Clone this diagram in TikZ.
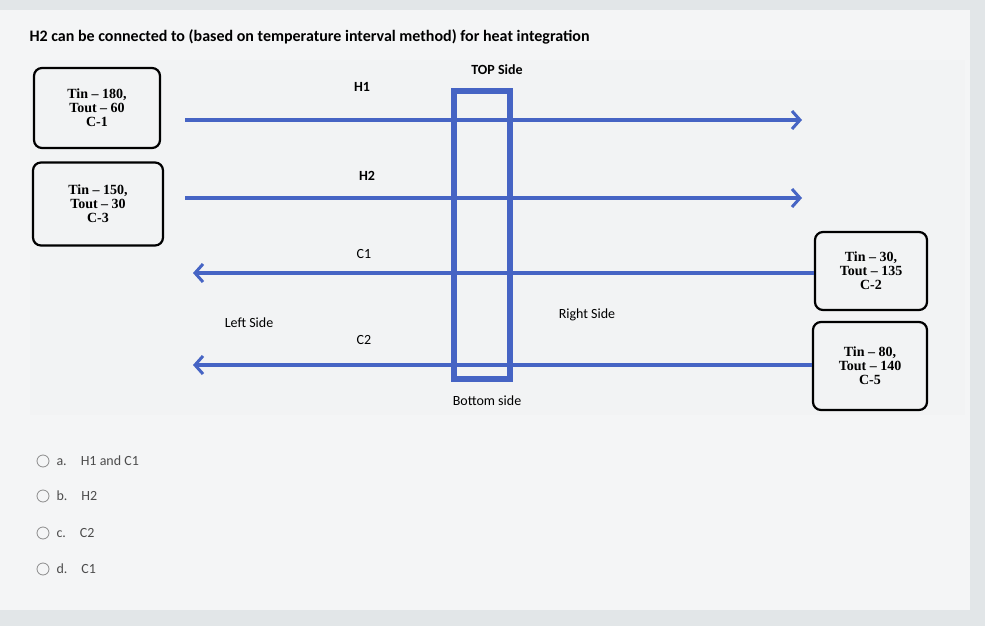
\documentclass[tikz,border=0pt]{standalone}
\usepackage{fontspec}
\setmainfont{Liberation Serif}
\newfontfamily\uifont{Carlito}
\usetikzlibrary{arrows.meta}
\definecolor{bl}{RGB}{70,100,196}
\definecolor{pg}{RGB}{226,230,232}
\definecolor{pn}{RGB}{242,243,244}
\begin{document}
\begin{tikzpicture}[x=1pt,y=-1pt,
  box/.style={draw=black,line width=2.2pt,rounded corners=8pt,fill=pn,align=center,font=\bfseries\fontsize{14}{14}\selectfont,inner sep=2pt},
  lab/.style={font=\uifont\fontsize{14}{15}\selectfont},
  strm/.style={draw=bl,line width=4pt,-{Straight Barb[length=8pt,width=18pt,line width=3pt]}},
  opt/.style={font=\uifont\fontsize{14}{15}\selectfont,text=black!70,anchor=west}]
\useasboundingbox (0,0) rectangle (985,626);
\fill[pg] (0,0) rectangle (985,626);
\fill[white!60!pg] (0,10) rectangle (970,610);
\fill[pn] (30,60) rectangle (965,415);
\node[anchor=west,font=\uifont\bfseries\fontsize{16}{18}\selectfont] (title) at (26,37) {H2 can be connected to (based on temperature interval method) for heat integration};
\node[box,minimum width=126pt,minimum height=80pt] (b1) at (97,108) {Tin -- 180,\\Tout -- 60\\C-1};
\node[box,minimum width=130pt,minimum height=83pt] (b2) at (98,204) {Tin -- 150,\\Tout -- 30\\C-3};
\node[box,minimum width=112pt,minimum height=78pt] (b3) at (871,271) {Tin -- 30,\\Tout -- 135\\C-2};
\node[box,minimum width=114pt,minimum height=88pt] (b4) at (870,366) {Tin -- 80,\\Tout -- 140\\C-5};
\coordinate (h1s) at (185,120); \coordinate (h1e) at (802,120);
\coordinate (h2s) at (185,198); \coordinate (h2e) at (802,198);
\coordinate (c1s) at (b3.west|-0,273); \coordinate (c1e) at (193,273);
\coordinate (c2s) at (b4.west|-0,365); \coordinate (c2e) at (193,365);
\draw[strm] (h1s) -- (h1e);
\draw[strm] (h2s) -- (h2e);
\draw[strm] (c1s) -- (c1e);
\draw[strm] (c2s) -- (c2e);
\node[draw=bl,line width=6pt,minimum width=56pt,minimum height=288pt,fill=none] (col) at (482,235) {};
\node[lab,font=\uifont\bfseries\fontsize{14}{15}\selectfont] (tl1) at (362,87) {H1};
\node[lab,font=\uifont\bfseries\fontsize{14}{15}\selectfont] (tl2) at (367,176) {H2};
\node[lab] (tl3) at (364,254) {C1};
\node[lab] (tl4) at (364,340) {C2};
\node[lab,font=\uifont\bfseries\fontsize{14}{15}\selectfont] (top) at (497,70) {TOP Side};
\node[lab] (bot) at (487,401) {Bottom side};
\node[lab] (ls) at (249,323) {Left Side};
\node[lab] (rs) at (587,315) {Right Side};
\foreach \y/\t [count=\i] in {461/{a.\quad H1 and C1},496/{b.\quad H2},533/{c.\quad C2},569/{d.\quad C1}}{
  \node[draw=black!45,circle,minimum size=12pt,inner sep=0pt,line width=0.8pt] (r\i) at (43,\y) {};
  \node[opt] (o\i) at (53,\y) {\t};
}
\end{tikzpicture}
\end{document}
